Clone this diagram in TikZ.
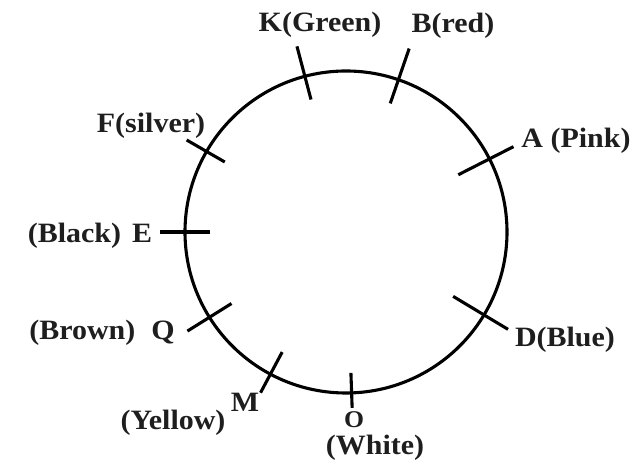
\documentclass[tikz,border=0pt]{standalone}
\usepackage{fontspec}
\setmainfont{Liberation Serif}[FakeStretch=1.07]
\usetikzlibrary{calc}
\definecolor{txt}{HTML}{1e1e1e}
\begin{document}
\begin{tikzpicture}[x=1pt,y=1pt,
  ring/.style={line width=3.1pt, black},
  tickline/.style={line width=3.1pt, black},
  lab/.style={font=\fontsize{28}{30}\selectfont\bfseries, text=txt, inner sep=0pt, anchor=base},
  labsmall/.style={font=\fontsize{24}{26}\selectfont\bfseries, text=txt, inner sep=0pt, anchor=base}]
\useasboundingbox (0,0) rectangle (643,468);
\coordinate (c) at (346,236);
\draw[ring] (c) circle[radius=161];
\foreach \a/\i/\o in {104.8/24/31, 71/25/33, 27/35/27, -31/36/28, -88/20/15, -118/25/21, -148/26/26, 180/25/25, 150/21/23}
  \draw[tickline] ($(c)+(\a:{161-\i})$) -- ($(c)+(\a:{161+\o})$);
\node[lab] (k) at (320,436) {K(Green)};
\node[lab] (b) at (453,435) {B(red)};
\node[lab] (a) at (576,320) {A (Pink)};
\node[lab] (f) at (151,335) {F(silver)};
\node[lab] (e) at (90,225) {(Black)\hspace{11pt}E};
\node[lab] (q) at (102,128) {(Brown)\hspace{16pt}Q};
\node[lab] (d) at (565,121) {D(Blue)};
\node[lab] (m) at (245,56) {M};
\node[lab] (y) at (173,38) {(Yellow)};
\node[labsmall] (o) at (354,40) {O};
\node[lab] (w) at (375,13) {(White)};
\end{tikzpicture}
\end{document}
